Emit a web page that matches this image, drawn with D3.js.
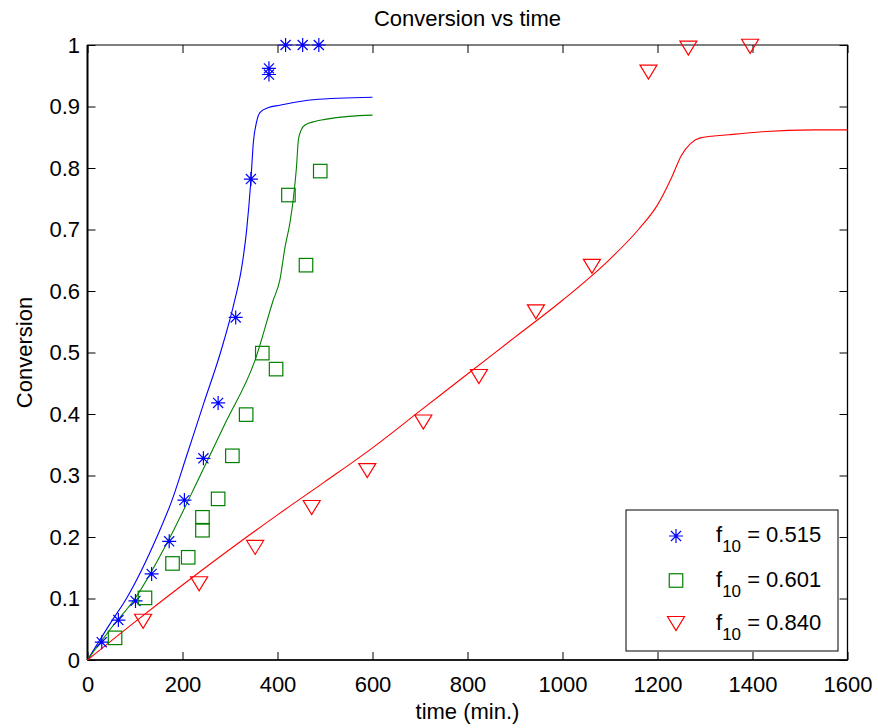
<!DOCTYPE html>
<html>
<head>
<meta charset="utf-8">
<script src="https://cdn.jsdelivr.net/npm/d3@7"></script>
<style>
  body { margin: 0; background: #fff; }
  text { font-family: "Liberation Sans", Arial, sans-serif; fill: #000; }
</style>
</head>
<body>
<svg id="chart" width="878" height="728"></svg>
<script>
// Measured conversion data (time in minutes)
const blueT = [30, 65, 101, 135, 172, 204, 244, 275, 312, 344, 382, 382, 417, 453, 487];
const blueC = [0.029, 0.065, 0.096, 0.140, 0.193, 0.260, 0.328, 0.418, 0.557, 0.782, 0.962, 0.952, 1.0, 1.0, 1.0];

const greenT = [58, 121, 179, 212, 242, 242, 275, 305, 334, 368, 397, 423, 460, 490];
const greenC = [0.036, 0.101, 0.157, 0.167, 0.211, 0.232, 0.262, 0.332, 0.399, 0.499, 0.473, 0.756, 0.642, 0.795];

const redT = [117, 235, 353, 472, 589, 707, 824, 944, 1062, 1181, 1265, 1395];
const redC = [0.063, 0.124, 0.183, 0.248, 0.308, 0.387, 0.461, 0.566, 0.640, 0.956, 0.995, 0.998];

// Model predictions
const blueFitT = [0, 50, 82, 146, 178, 207, 245, 280, 310, 325, 335, 344, 349, 356, 363, 380, 405, 475, 600];
const blueFitC = [0, 0.062, 0.1, 0.2, 0.26, 0.328, 0.418, 0.5, 0.585, 0.64, 0.699, 0.78, 0.84, 0.875, 0.89, 0.898, 0.902, 0.911, 0.915];

const greenFitT = [0, 50, 100, 174, 233, 290, 353, 391, 405, 416, 426, 433, 440, 444, 450, 458, 480, 500, 550, 600];
const greenFitC = [0, 0.052, 0.1, 0.2, 0.293, 0.385, 0.488, 0.585, 0.618, 0.672, 0.71, 0.748, 0.802, 0.846, 0.862, 0.87, 0.876, 0.879, 0.884, 0.886];

const redFitT = [0, 100, 200, 300, 400, 500, 600, 700, 800, 900, 1000, 1100, 1160, 1200, 1230, 1250, 1270, 1290, 1350, 1420, 1530, 1600];
const redFitC = [0, 0.062, 0.122, 0.18, 0.236, 0.29, 0.345, 0.405, 0.465, 0.525, 0.585, 0.652, 0.7, 0.74, 0.785, 0.82, 0.84, 0.849, 0.854, 0.859, 0.862, 0.862];

const xTicks = [0, 200, 400, 600, 800, 1000, 1200, 1400, 1600];
const yTicks = [0, 0.1, 0.2, 0.3, 0.4, 0.5, 0.6, 0.7, 0.8, 0.9, 1];
const legendLabels = ["0.515", "0.601", "0.840"];

const colors = { blue: "#0000ff", green: "#008000", red: "#ff0000" };
const FONT = 22;

const svg = d3.select("#chart");
const plotLeft = 87.5, plotRight = 847.5, plotTop = 45, plotBottom = 660;

const x = d3.scaleLinear().domain([0, 1600]).range([plotLeft, plotRight]);
const y = d3.scaleLinear().domain([0, 1]).range([plotBottom, plotTop]);

// Frame
svg.append("rect")
  .attr("x", plotLeft).attr("y", plotTop)
  .attr("width", plotRight - plotLeft).attr("height", plotBottom - plotTop)
  .attr("fill", "#fff").attr("stroke", "#000").attr("stroke-width", 1);

// Axes with inward ticks on all four sides
const styleAxis = g => {
  g.select(".domain").remove();
  g.selectAll(".tick line").attr("stroke", "#000");
  g.selectAll(".tick text").style("font-size", FONT + "px").attr("font-family", null);
};

svg.append("g").attr("transform", `translate(0,${plotBottom})`)
  .call(d3.axisBottom(x).tickValues(xTicks).tickFormat(d3.format("d")).tickSize(-8).tickPadding(16))
  .call(styleAxis);

svg.append("g").attr("transform", `translate(0,${plotTop})`)
  .call(d3.axisTop(x).tickValues(xTicks).tickFormat("").tickSize(-8))
  .call(styleAxis);

svg.append("g").attr("transform", `translate(${plotLeft},0)`)
  .call(d3.axisLeft(y).tickValues(yTicks).tickFormat(d => String(+d.toFixed(1))).tickSize(-8).tickPadding(7.5))
  .call(styleAxis);

svg.append("g").attr("transform", `translate(${plotRight},0)`)
  .call(d3.axisRight(y).tickValues(yTicks).tickFormat("").tickSize(-8))
  .call(styleAxis);

// Heavier left, bottom and right spines
svg.append("line").attr("x1", plotLeft).attr("x2", plotLeft).attr("y1", plotTop).attr("y2", plotBottom)
  .attr("stroke", "#000").attr("stroke-width", 2);
svg.append("line").attr("x1", plotLeft).attr("x2", plotRight).attr("y1", plotBottom).attr("y2", plotBottom)
  .attr("stroke", "#000").attr("stroke-width", 1.5);
svg.append("line").attr("x1", plotRight).attr("x2", plotRight).attr("y1", plotTop).attr("y2", plotBottom)
  .attr("stroke", "#000").attr("stroke-width", 1.3);

// Model curves
const line = d3.line().x(d => x(d[0])).y(d => y(d[1])).curve(d3.curveMonotoneX);
const fits = [
  [blueFitT, blueFitC, colors.blue],
  [greenFitT, greenFitC, colors.green],
  [redFitT, redFitC, colors.red]
];
fits.forEach(([ts, cs, c]) => {
  svg.append("path")
    .datum(ts.map((t, i) => [t, cs[i]]))
    .attr("d", line)
    .attr("fill", "none")
    .attr("stroke", c)
    .attr("stroke-width", 1.1);
});

// Marker shapes
function asterisk(g, cx, cy, color) {
  const r = 7, d = r * 0.72;
  const p = `M${cx - r},${cy}L${cx + r},${cy}M${cx},${cy - r}L${cx},${cy + r}` +
            `M${cx - d},${cy - d}L${cx + d},${cy + d}M${cx - d},${cy + d}L${cx + d},${cy - d}`;
  g.append("path").attr("d", p).attr("stroke", color).attr("stroke-width", 1.2).attr("fill", "none");
}
function square(g, cx, cy, color) {
  const s = 13.5;
  g.append("rect").attr("x", cx - s / 2).attr("y", cy - s / 2).attr("width", s).attr("height", s)
    .attr("fill", "none").attr("stroke", color).attr("stroke-width", 1.2);
}
function triDown(g, cx, cy, color) {
  const w = 8.5, h = 14;
  const p = `M${cx - w},${cy - h / 2}L${cx + w},${cy - h / 2}L${cx},${cy + h / 2}Z`;
  g.append("path").attr("d", p).attr("fill", "none").attr("stroke", color).attr("stroke-width", 1.2);
}

const markers = svg.append("g");
blueT.forEach((t, i) => asterisk(markers, x(t), y(blueC[i]), colors.blue));
greenT.forEach((t, i) => square(markers, x(t), y(greenC[i]), colors.green));
redT.forEach((t, i) => triDown(markers, x(t), y(redC[i]), colors.red));

// Legend
const lg = svg.append("g");
lg.append("rect").attr("x", 626).attr("y", 510).attr("width", 212).attr("height", 141)
  .attr("fill", "#fff").attr("stroke", "#000").attr("stroke-width", 1);
const rows = [536, 580.5, 623.5];
const makers = [asterisk, square, triDown];
const rowColors = [colors.blue, colors.green, colors.red];
rows.forEach((ry, i) => {
  makers[i](lg, 676, ry, rowColors[i]);
  const t = lg.append("text").attr("x", 716).attr("y", ry + 6).style("font-size", FONT + "px");
  t.append("tspan").text("f");
  t.append("tspan").attr("dy", 10).style("font-size", "17px").text("10");
  t.append("tspan").attr("dy", -10).text(" = " + legendLabels[i]);
});

// Titles
svg.append("text").attr("x", (plotLeft + plotRight) / 2).attr("y", 26)
  .attr("text-anchor", "middle").style("font-size", FONT + "px").text("Conversion vs time");
svg.append("text").attr("x", (plotLeft + plotRight) / 2).attr("y", 719)
  .attr("text-anchor", "middle").style("font-size", FONT + "px").text("time (min.)");
svg.append("text").attr("transform", `translate(31.5,${(plotTop + plotBottom) / 2}) rotate(-90)`)
  .attr("text-anchor", "middle").style("font-size", FONT + "px").text("Conversion");
</script>
</body>
</html>
